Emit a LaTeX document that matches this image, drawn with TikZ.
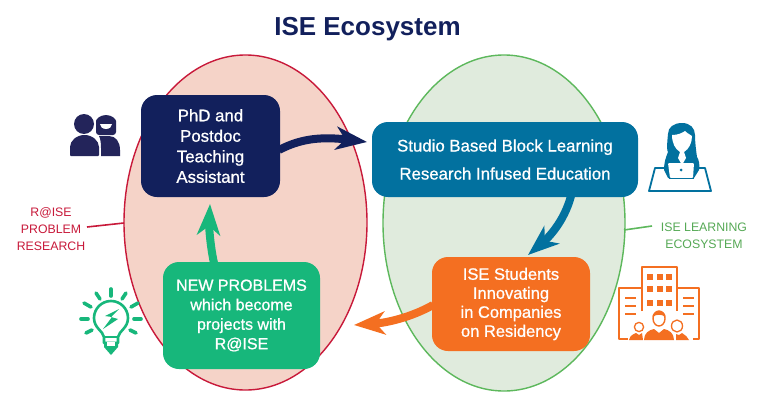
\documentclass[tikz,border=0pt]{standalone}
\usepackage{fontspec}
\setmainfont{Liberation Sans}
\newfontfamily\boxfont{Liberation Sans}[FakeBold=0.9]
\usetikzlibrary{arrows.meta}
\definecolor{navy}{HTML}{12205C}
\definecolor{navyicon}{HTML}{23245A}
\definecolor{teal}{HTML}{02719F}
\definecolor{orng}{HTML}{F46F21}
\definecolor{grn}{HTML}{17B77B}
\definecolor{redline}{HTML}{C8193A}
\definecolor{greenline}{HTML}{5DB85C}
\definecolor{pinkfill}{HTML}{F5D3C8}
\definecolor{greenfill}{HTML}{E0EBDD}
\tikzset{
  every picture/.style={x=1pt,y=-1pt},
  boxstyle/.style={rounded corners=16pt,inner sep=0pt,align=center,text=white},
  flow/.style={line width=8pt,-{Stealth[length=31pt,width=23pt,inset=9pt]}},
  side/.style={font=\fontsize{12.3}{17}\selectfont,align=center},
  iconline/.style={line cap=round,line join=round}
}
\begin{document}
\begin{tikzpicture}
\useasboundingbox (0,0) rectangle (768,415);
\fill[white] (0,0) rectangle (768,415);
% ellipses
\draw[redline,fill=pinkfill,line width=1.4pt] (245.5,222.5) ellipse [x radius=121.5,y radius=167.5];
\draw[greenline,fill=greenfill,line width=1.4pt] (504,223) ellipse [x radius=121,y radius=168];
% title
\node (title) at (367.5,29) {\fontsize{26}{30}\selectfont\bfseries\color{navy} ISE Ecosystem};
% connectors (drawn under the boxes so that they start at the box edge)
\node[boxstyle,fill=navy,minimum width=139pt,minimum height=102pt,font=\boxfont\fontsize{16.8}{20.5}\selectfont] (phd) at (210.5,146) {PhD and\\Postdoc\\Teaching\\Assistant};
\node[boxstyle,fill=teal,minimum width=266pt,minimum height=75pt,font=\boxfont\fontsize{16.8}{20}\selectfont] (studio) at (505,159.5) {Studio Based Block Learning\\[8pt]Research Infused Education};
\node[boxstyle,fill=orng,minimum width=158pt,minimum height=94pt,font=\boxfont\fontsize{16.5}{19}\selectfont] (students) at (511,304) {ISE Students\\Innovating\\in Companies\\on Residency};
\node[boxstyle,fill=grn,minimum width=157pt,minimum height=107pt,font=\boxfont\fontsize{16}{19.5}\selectfont] (newp) at (241.5,315.5) {NEW PROBLEMS\\which become\\projects with\\R@ISE};
\coordinate (a1) at (279,150); \coordinate (a2) at (367,142);
\draw[flow,navy] (a1) .. controls (298,140) and (318,136) .. (a2);
\coordinate (b1) at (571,196); \coordinate (b2) at (528,255);
\draw[flow,teal] (b1) .. controls (564,222) and (548,238) .. (b2);
\coordinate (c1) at (433,305); \coordinate (c2) at (354,325);
\draw[flow,orng] (c1) .. controls (410,318) and (385,323) .. (c2);
\coordinate (d1) at (214,263); \coordinate (d2) at (210,204);
\draw[flow,grn] (d1) .. controls (210,245) and (209,225) .. (d2);
% side labels
\node[side,text=redline] (rlabel) at (51,229) {R@ISE\\PROBLEM\\RESEARCH};
\node[side,text=greenline!92!black] (glabel) at (704,236) {ISE LEARNING\\ECOSYSTEM};
\coordinate (rl1) at (87,227);
\draw[redline,line width=1.6pt] (rl1) -- (124,223);
\coordinate (gl1) at (652,226);
\draw[greenline,line width=1.6pt] (624,230) -- (gl1);
% people icon
\begin{scope}[navyicon]
\fill (84,124) circle (10);
\fill[rounded corners=1pt] (70,156) -- (70,148) arc[start angle=180,end angle=360,x radius=14.5,y radius=13] -- (99,156) -- cycle;
\fill[rounded corners=3pt] (96,135) -- (96,124) arc[start angle=180,end angle=360,x radius=10,y radius=9] -- (116,135) -- cycle;
\fill (101,156) -- (101,148) .. controls (101,141) and (100,138) .. (99,136) -- (109,136) .. controls (116,136) and (120,142) .. (120,150) -- (120,156) -- cycle;
\fill[white] (100,124) -- (112,124) arc[start angle=0,end angle=180,x radius=6,y radius=5] -- cycle;
\end{scope}
% bulb icon
\begin{scope}[grn,iconline]
\draw[line width=2.6pt] (104,343) -- (104,337) .. controls (103,331) and (94,328) .. (94,318) arc[start angle=180,end angle=360,radius=17] .. controls (128,328) and (119,331) .. (118,337) -- (118,343) -- cycle;
\fill (104,343) -- (118,343) -- (118,347) -- (111,355) -- (104,347) -- cycle;
\fill[white] (107,342) rectangle (115,346);
\draw[line width=2.6pt] (104,337) -- (118,337);
\draw[line width=3.6pt] (111,289) -- (111,296);
\draw[line width=3.6pt] (96,293) -- (100,299);
\draw[line width=3.6pt] (126,293) -- (122,299);
\draw[line width=3.6pt] (84,303) -- (91,307);
\draw[line width=3.6pt] (138,303) -- (131,307);
\draw[line width=3.6pt] (81,319) -- (88,319);
\draw[line width=3.6pt] (141,319) -- (134,319);
\draw[line width=3.6pt] (86,333) -- (92,330);
\draw[line width=3.6pt] (136,333) -- (130,330);
\fill (119,309) -- (105,316) -- (112,317) -- (103,329) -- (118,319) -- (111,317) -- cycle;
\end{scope}
% woman icon
\begin{scope}[teal]
\draw[line width=1.8pt,line join=round] (655,168) -- (705,168) -- (711,191) -- (649,191) -- cycle;
\fill (668,152) .. controls (666,150) and (668,135) .. (668,134) .. controls (668,127) and (674,123) .. (682,123) .. controls (690,123) and (695,128) .. (695,135) .. controls (695,142) and (696,150) .. (697,157) .. controls (699,160) and (700,165) .. (699,170) -- (694,178) -- (668,178) -- (664,170) .. controls (664,162) and (666,157) .. (668,152) -- cycle;
\fill[white] (672,135) .. controls (678,135) and (682,133) .. (685,131) .. controls (688,134) and (691,135) .. (692,136) .. controls (692,143) and (689,149) .. (684,152) -- (686,158) -- (682,165) -- (678,158) -- (680,152) .. controls (675,149) and (672,143) .. (672,135) -- cycle;
\fill[white,rounded corners=1pt] (668,163) -- (694,163) -- (693,178) -- (670,178) -- cycle;
\fill[teal] (681,170) circle (1.5);
\fill[teal] (669,177.5) rectangle (694,179);
\end{scope}
% company icon
\begin{scope}[orng]
\draw[line width=1.4pt,line join=round] (642,311) -- (642,267) -- (677,267) -- (677,311);
\draw[line width=1.4pt,line join=round] (642,288) -- (619,288) -- (619,339) -- (628,339);
\draw[line width=1.4pt,line join=round] (677,288) -- (699,288) -- (699,339) -- (693,339);
\foreach \yy in {277,289,303}{\foreach \xx in {650,659.5,669}{\fill (\xx-3,\yy-3) rectangle (\xx+3,\yy+3);}}
\foreach \yy in {298,306,314}{\fill (625,\yy-1.2) rectangle (636,\yy+1.2);\fill (683,\yy-1.2) rectangle (694,\yy+1.2);}
\draw[line width=1.4pt] (659,318.5) ellipse [x radius=6,y radius=7.5];
\fill (652.5,317) .. controls (652,310) and (666,309) .. (665.5,317) .. controls (662,314) and (656,314) .. (652.5,317) -- cycle;
\fill (644,340) .. controls (644,333) and (649,330) .. (654,329) -- (659,333) -- (664,329) .. controls (669,330) and (674,333) .. (674,340) -- cycle;
\draw[line width=1.3pt] (639,327) circle (4.6);
\fill (629,340) .. controls (630,335) and (634,334) .. (636,333) -- (639,335) -- (642,333) -- (643,340) -- cycle;
\draw[line width=1.3pt] (677,326) ellipse [x radius=5.5,y radius=6];
\fill (676,340) -- (676,334) -- (679,335) -- (682,333) .. controls (685,335) and (688,337) .. (689,340) -- cycle;
\end{scope}
\end{tikzpicture}
\end{document}
